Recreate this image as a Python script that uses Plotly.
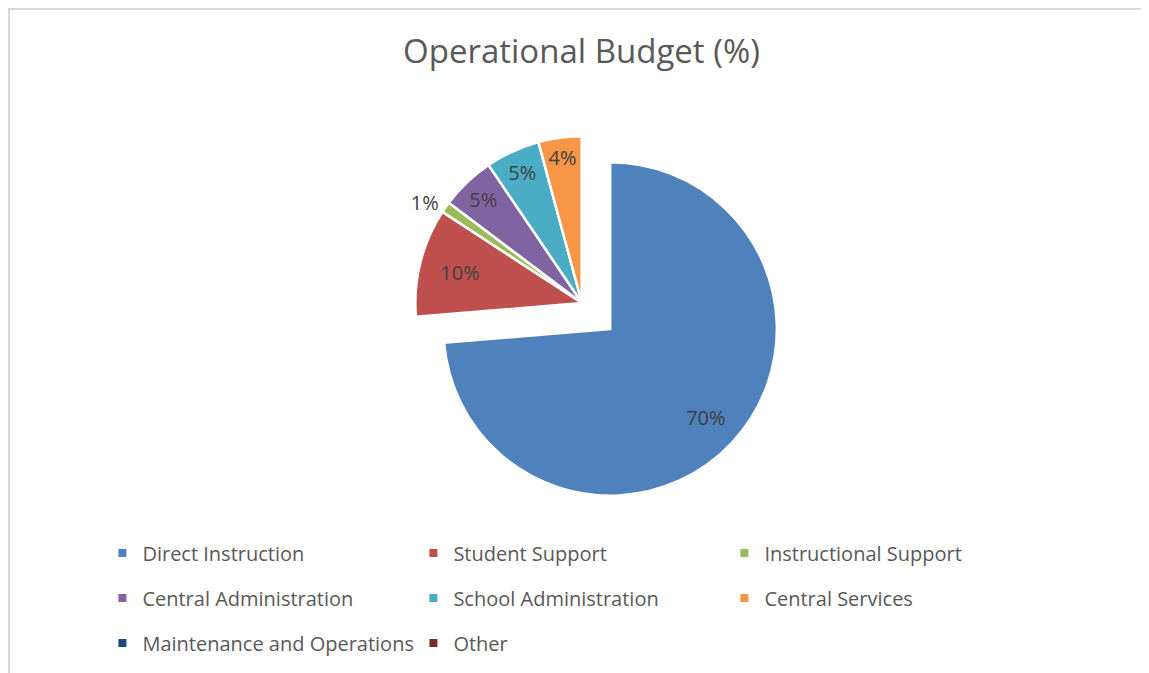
import plotly.graph_objects as go

categories = ["Direct Instruction", "Student Support", "Instructional Support",
              "Central Administration", "School Administration", "Central Services",
              "Maintenance and Operations", "Other"]
values = [70, 10, 1, 5, 5, 4, 0, 0]
colors = ["#4F81BD", "#C0504D", "#9BBB59", "#8064A2", "#4BACC6", "#F79646",
          "#1F497D", "#772C2A"]
pulls = [0.23, 0, 0, 0, 0, 0, 0, 0]
# where each value label goes: small slices in the main pie, the big one further out
label_pos = ["none", "inside", "outside", "inside", "inside", "inside", "none", "none"]
outer_label_pos = ["inside", "none", "none", "none", "none", "none", "none", "none"]
legend_rows = [0, 0, 0, 1, 1, 1, 2, 2]

W, H = 1149, 673
OFF = 8  # page body margin
cx, cy, half = 574, 295, 205
domain = dict(x=[(cx - half) / W, (cx + half) / W],
              y=[1 - (cy + half) / H, 1 - (cy - half) / H])
FONT = "Open Sans"
label_font = dict(family=FONT, size=20, color="#404040")

fig = go.Figure()
fig.add_trace(go.Pie(
    labels=categories, values=values, sort=False, direction="clockwise", rotation=0,
    pull=pulls,
    marker=dict(colors=colors, line=dict(color="white", width=2.5)),
    texttemplate="%{value}%", textposition=label_pos,
    insidetextorientation="horizontal",
    textfont=label_font, insidetextfont=label_font, outsidetextfont=label_font,
    hoverinfo="label+value", showlegend=False, domain=domain,
))
# transparent ring, same data, used only to place the large slice's label further out
fig.add_trace(go.Pie(
    labels=categories, values=values, sort=False, direction="clockwise", rotation=0,
    pull=pulls, hole=0.56,
    marker=dict(colors=["rgba(0,0,0,0)"] * len(values), line=dict(width=0)),
    texttemplate="%{value}%", textposition=outer_label_pos,
    insidetextorientation="horizontal",
    textfont=label_font, insidetextfont=label_font,
    hoverinfo="skip", showlegend=False, domain=domain,
))

legend_names = ["legend", "legend2", "legend3"]
for cat, col, row in zip(categories, colors, legend_rows):
    fig.add_trace(go.Scatter(
        x=[None], y=[None], mode="markers", name=cat,
        marker=dict(symbol="square", size=8, color=col),
        legend=legend_names[row], hoverinfo="skip",
    ))

row_y = [553 - OFF, 598 - OFF, 643 - OFF]
leg_common = dict(orientation="h", x=(143 - OFF - 40.6) / W, xanchor="left",
                  yanchor="middle", entrywidth=266, entrywidthmode="pixels",
                  font=dict(family=FONT, size=20, color="#595959"),
                  traceorder="normal", bgcolor="rgba(0,0,0,0)")

fig.update_layout(
    width=W, height=H,
    margin=dict(l=0, r=0, t=0, b=0),
    paper_bgcolor="white", plot_bgcolor="white",
    xaxis=dict(visible=False), yaxis=dict(visible=False),
    title=dict(text="Operational Budget (%)", x=(581.5 - OFF) / W, xanchor="center",
               y=1 - (51 - OFF) / H, yanchor="middle",
               font=dict(family=FONT, size=33, color="#595959")),
    legend=dict(y=1 - row_y[0] / H, **leg_common),
    legend2=dict(y=1 - row_y[1] / H, **leg_common),
    legend3=dict(y=1 - row_y[2] / H, **leg_common),
    shapes=[
        dict(type="rect", xref="paper", yref="paper", x0=1 / W, x1=1.02, y0=-0.02,
             y1=1 - 1 / H, line=dict(color="#D9D9D9", width=2), layer="below"),
    ],
)

fig.write_html("out.html")
